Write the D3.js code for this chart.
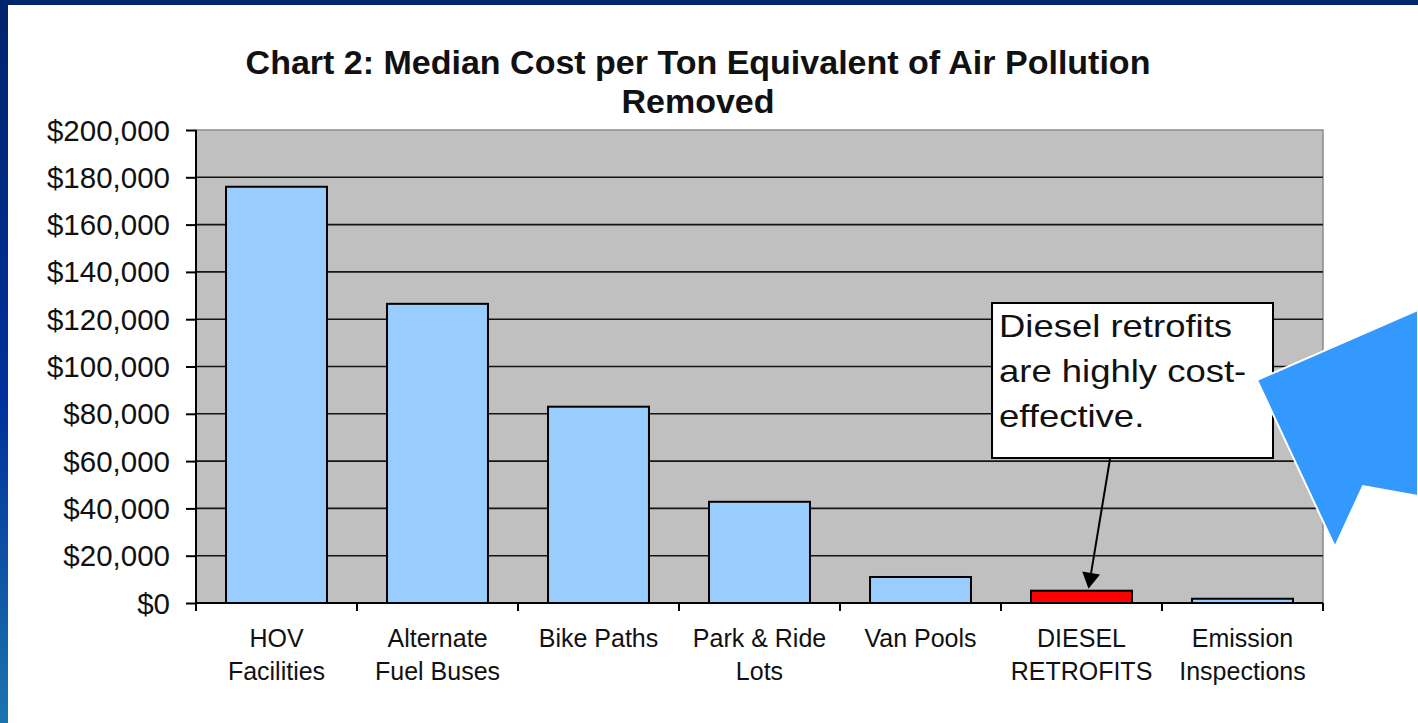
<!DOCTYPE html>
<html>
<head>
<meta charset="utf-8">
<script src="https://cdn.jsdelivr.net/npm/d3@7/dist/d3.min.js"></script>
<style>
  html, body { margin: 0; padding: 0; background: #ffffff; }
  svg { display: block; }
  text { font-family: "Liberation Sans", Arial, sans-serif; fill: #111; }
</style>
</head>
<body>
<svg id="chart" width="1418" height="723"></svg>
<script>
// Chart content
const titleLines = ["Chart 2: Median Cost per Ton Equivalent of Air Pollution", "Removed"];
const categories = ["HOV Facilities", "Alternate Fuel Buses", "Bike Paths", "Park & Ride Lots",
                    "Van Pools", "DIESEL RETROFITS", "Emission Inspections"];
const categoryLines = [["HOV", "Facilities"], ["Alternate", "Fuel Buses"], ["Bike Paths"],
                       ["Park & Ride", "Lots"], ["Van Pools"], ["DIESEL", "RETROFITS"],
                       ["Emission", "Inspections"]];
const medianCost = [176000, 126500, 83000, 42800, 11000, 5200, 1800];
const highlighted = "DIESEL RETROFITS";
const yTicks = [0, 20000, 40000, 60000, 80000, 100000, 120000, 140000, 160000, 180000, 200000];
const noteLines = ["Diesel retrofits", "are highly cost-", "effective."];

const W = 1418, H = 723;
const plot = { left: 196, right: 1323, top: 130, bottom: 603 };

const svg = d3.select("#chart");

// Slide frame: dark top band and gradient strip on the left
const defs = svg.append("defs");
const grad = defs.append("linearGradient").attr("id", "sideGrad")
  .attr("x1", 0).attr("y1", 0).attr("x2", 0).attr("y2", 1);
grad.append("stop").attr("offset", 0).attr("stop-color", "#00246c");
grad.append("stop").attr("offset", 0.55).attr("stop-color", "#00309a");
grad.append("stop").attr("offset", 1).attr("stop-color", "#1b74ae");

svg.append("rect").attr("x", 0).attr("y", 0).attr("width", W).attr("height", H).attr("fill", "#ffffff");
svg.append("rect").attr("x", 0).attr("y", 0).attr("width", W).attr("height", 5).attr("fill", "#00266f");
svg.append("rect").attr("x", 0).attr("y", 0).attr("width", 8).attr("height", H).attr("fill", "url(#sideGrad)");

// Scales
const x = d3.scaleBand().domain(categories)
  .range([plot.left, plot.right]).paddingInner(0.373).paddingOuter(0.1865);
const y = d3.scaleLinear().domain([0, 200000]).range([plot.bottom, plot.top]);

// Plot area
svg.append("rect")
  .attr("x", plot.left).attr("y", plot.top)
  .attr("width", plot.right - plot.left).attr("height", plot.bottom - plot.top)
  .attr("fill", "#c0c0c0").attr("stroke", "#8c8c8c").attr("stroke-width", 1.5);

// Horizontal gridlines
svg.append("g").selectAll("line")
  .data(yTicks.filter(d => d > 0 && d < 200000))
  .join("line")
  .attr("x1", plot.left).attr("x2", plot.right)
  .attr("y1", d => y(d)).attr("y2", d => y(d))
  .attr("stroke", "#151515").attr("stroke-width", 1.6);

// Bars
svg.append("g").selectAll("rect")
  .data(categories)
  .join("rect")
  .attr("x", d => x(d))
  .attr("width", x.bandwidth())
  .attr("y", (d, i) => y(medianCost[i]))
  .attr("height", (d, i) => y(0) - y(medianCost[i]))
  .attr("fill", d => d === highlighted ? "#ff0000" : "#99ccff")
  .attr("stroke", "#000").attr("stroke-width", 2);

// Y axis
const yAxis = svg.append("g")
  .attr("transform", `translate(${plot.left},0)`)
  .call(d3.axisLeft(y).tickValues(yTicks)
    .tickFormat(d => "$" + d3.format(",")(d))
    .tickSize(10).tickPadding(16));
yAxis.select(".domain").attr("stroke", "#000").attr("stroke-width", 2).attr("d", `M0,${plot.top}V${plot.bottom}`);
yAxis.selectAll(".tick line").attr("stroke", "#000").attr("stroke-width", 2);
yAxis.selectAll(".tick text")
  .style("font-family", '"Liberation Sans", Arial, sans-serif')
  .style("font-size", "29.5px").attr("fill", "#151515").attr("dy", "0.34em");

// X axis line with ticks at category boundaries
const xAxis = svg.append("g");
xAxis.append("line")
  .attr("x1", plot.left).attr("x2", plot.right)
  .attr("y1", plot.bottom).attr("y2", plot.bottom)
  .attr("stroke", "#000").attr("stroke-width", 2);
const boundaries = d3.range(categories.length + 1).map(i => plot.left + i * x.step());
xAxis.selectAll("line.tick")
  .data(boundaries)
  .join("line").attr("class", "tick")
  .attr("x1", d => d).attr("x2", d => d)
  .attr("y1", plot.bottom).attr("y2", plot.bottom + 8)
  .attr("stroke", "#000").attr("stroke-width", 2);

// Category labels
const labels = svg.append("g").selectAll("text")
  .data(categories)
  .join("text")
  .attr("text-anchor", "middle")
  .style("font-size", "25px")
  .attr("fill", "#151515");
labels.selectAll("tspan")
  .data((d, i) => categoryLines[i].map((line, j) => ({ line, j, cx: x(d) + x.bandwidth() / 2 })))
  .join("tspan")
  .attr("x", d => d.cx)
  .attr("y", d => 647 + d.j * 33)
  .text(d => d.line);

// Title
svg.append("g").selectAll("text")
  .data(titleLines)
  .join("text")
  .attr("x", 698)
  .attr("y", (d, i) => 74 + i * 39)
  .attr("text-anchor", "middle")
  .style("font-size", "34px").style("font-weight", "bold")
  .attr("fill", "#0d0d0d")
  .text(d => d);

// Callout note with arrow to the highlighted bar
const note = svg.append("g");
note.append("rect")
  .attr("x", 992).attr("y", 303).attr("width", 281).attr("height", 155)
  .attr("fill", "#ffffff").attr("stroke", "#000").attr("stroke-width", 2);
note.selectAll("text")
  .data(noteLines)
  .join("text")
  .attr("transform", (d, i) => `translate(999,${337 + i * 45}) scale(1.14,1)`)
  .style("font-size", "32px")
  .attr("fill", "#151515")
  .text(d => d);

const hiIdx = categories.indexOf(highlighted);
const tipX = x(highlighted) + x.bandwidth() / 2 + 7;
const tipY = y(medianCost[hiIdx]) - 2;
const startX = 1110, startY = 459;
const ang = Math.atan2(tipY - startY, tipX - startX);
const headLen = 16, headHalf = 9;
const baseX = tipX - headLen * Math.cos(ang), baseY = tipY - headLen * Math.sin(ang);
note.append("line")
  .attr("x1", startX).attr("y1", startY).attr("x2", baseX).attr("y2", baseY)
  .attr("stroke", "#000").attr("stroke-width", 2);
note.append("path")
  .attr("d", d3.line()([
    [tipX, tipY],
    [baseX + headHalf * Math.sin(ang), baseY - headHalf * Math.cos(ang)],
    [baseX - headHalf * Math.sin(ang), baseY + headHalf * Math.cos(ang)]
  ]) + "Z")
  .attr("fill", "#000");

// Blue pointer shape at the right edge of the slide
svg.append("path")
  .attr("d", d3.line()([[1257, 380], [1418, 310], [1418, 496], [1363, 486], [1335, 547]]) + "Z")
  .attr("fill", "#3399ff").attr("stroke", "#ffffff").attr("stroke-width", 2);
</script>
</body>
</html>
